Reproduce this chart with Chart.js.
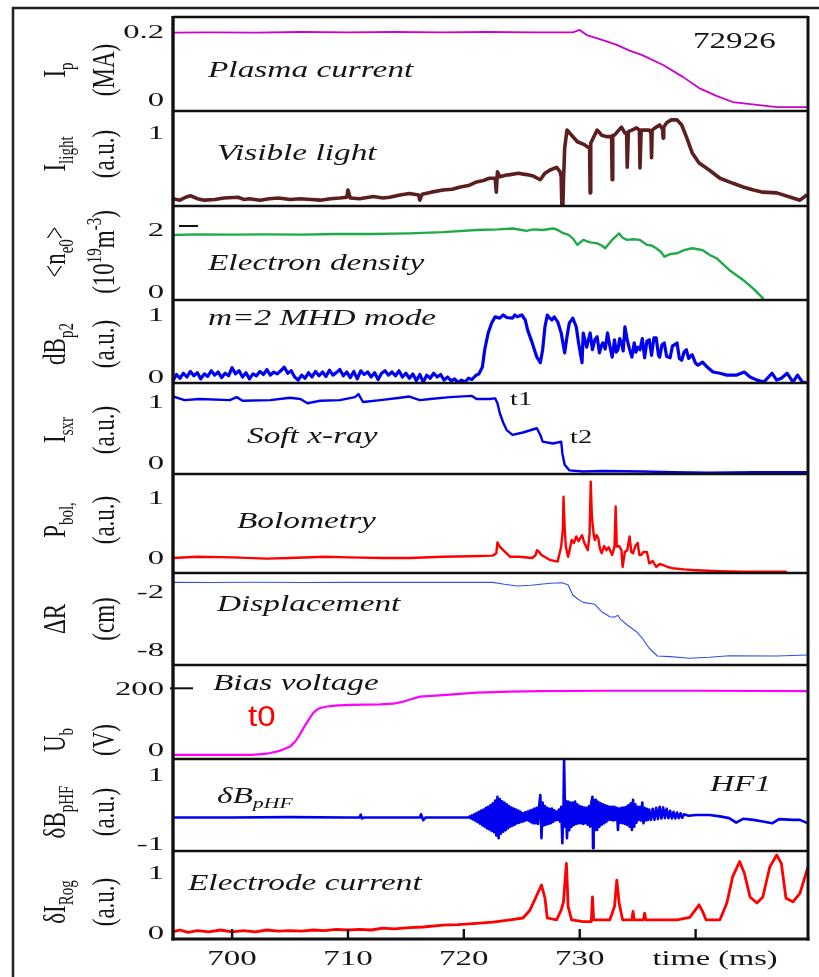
<!DOCTYPE html>
<html>
<head>
<meta charset="utf-8">
<script src="https://cdn.jsdelivr.net/npm/chart.js@4.4.1/dist/chart.umd.min.js"></script>
<style>
  html, body { margin: 0; padding: 0; background: #fff; }
  canvas { display: block; }
</style>
</head>
<body>
<canvas id="shot" width="819" height="977"></canvas>
<script>
// time axis (ms)
const timeTicks = [700, 710, 720, 730, 740];
const timeTickLabels = ['700', '710', '720', '730', ''];

// tick values shown on each panel, top to bottom
const yTickValues = [[0.2, 0], [1], [2, 0], [1, 0], [1, 0], [1, 0], [-2, -8], [200, 0], [1, -1], [1, 0]];

// [time ms, value] pairs
const plasmaCurrent = [[694.9,0.198],[698,0.199],[702,0.198],[706,0.2],[710,0.199],[714,0.2],[718,0.199],[722,0.2],[726,0.199],[729.4,0.199],[730.0,0.206],[730.6,0.191],[732.0,0.176],[733.2,0.162],[734.3,0.145],[735.4,0.132],[737.2,0.103],[738.9,0.068],[740.3,0.035],[741.8,0.012],[743.2,-0.006],[745.5,-0.015],[747.0,-0.021],[749.7,-0.021]];

const visibleLight = [[694.9,0.10],[695.5,0.08],[696.0,0.12],[696.4,0.14],[697.0,0.10],[697.6,0.08],[698.5,0.09],[699.3,0.11],[700.5,0.12],[701.0,0.09],[701.5,0.10],[702.4,0.08],[703.2,0.10],[704.0,0.11],[705.0,0.09],[705.9,0.10],[706.8,0.09],[707.6,0.08],[708.5,0.10],[709.3,0.11],[709.9,0.12],[710.0,0.22],[710.2,0.11],[711.0,0.10],[711.8,0.12],[712.2,0.13],[713.0,0.11],[713.6,0.12],[714.5,0.15],[715.3,0.17],[716.1,0.15],[716.2,0.08],[716.4,0.16],[717.2,0.19],[718.2,0.22],[719.0,0.23],[719.7,0.26],[720.4,0.28],[721.1,0.33],[721.7,0.35],[722.2,0.38],[722.7,0.38],[722.8,0.19],[722.9,0.47],[723.1,0.40],[723.6,0.42],[724.0,0.43],[724.7,0.45],[725.4,0.43],[726.0,0.41],[726.6,0.36],[727.0,0.45],[727.4,0.49],[728.0,0.53],[728.3,0.47],[728.4,0.40],[728.5,-0.30],[728.6,0.35],[728.7,0.79],[728.9,1.04],[729.3,0.97],[729.8,0.88],[730.4,0.84],[730.85,0.79],[730.9,0.18],[730.95,0.86],[731.5,1.04],[731.9,0.97],[732.3,0.95],[732.75,0.95],[732.8,0.36],[732.85,0.97],[733.0,0.97],[733.6,1.08],[733.9,1.0],[734.05,1.0],[734.1,0.53],[734.2,1.02],[734.5,1.04],[734.9,1.07],[735.15,1.04],[735.2,0.52],[735.3,1.04],[736.0,1.04],[736.15,1.0],[736.2,0.66],[736.25,1.04],[736.5,1.07],[736.9,1.11],[737.15,1.05],[737.2,0.93],[737.25,1.08],[737.5,1.14],[737.9,1.18],[738.4,1.18],[738.8,1.11],[739.2,0.95],[739.7,0.73],[740.3,0.59],[741.2,0.49],[742.1,0.38],[742.9,0.33],[744.1,0.26],[745.0,0.22],[745.8,0.19],[747.0,0.18],[748.4,0.11],[749.0,0.08],[749.6,0.15]];

const electronDensity = [[694.9,1.84],[697,1.86],[700,1.85],[703,1.86],[706,1.85],[709,1.87],[712,1.87],[715.3,1.89],[718.2,1.93],[721.1,2.0],[723,2.02],[724.2,2.05],[725.0,2.0],[725.4,1.97],[726.0,2.02],[726.8,2.0],[727.7,2.05],[728.1,2.0],[728.5,1.91],[729.0,1.85],[729.4,1.73],[729.8,1.52],[730.3,1.68],[730.9,1.6],[731.5,1.57],[731.9,1.5],[732.2,1.41],[732.5,1.55],[732.8,1.68],[733.4,1.89],[733.7,1.75],[734.1,1.68],[734.6,1.7],[735.2,1.68],[735.8,1.52],[736.2,1.5],[736.6,1.41],[737.0,1.3],[737.3,1.14],[737.8,1.22],[738.4,1.25],[739.0,1.35],[739.7,1.41],[740.2,1.38],[740.6,1.35],[741.2,1.2],[741.8,1.09],[742.9,0.71],[744.1,0.39],[745.0,0.1],[745.8,-0.2]];

const mhdMode = [[694.9,-0.06],[695.2,0.04],[695.5,-0.02],[695.8,0.06],[696.1,0.0],[696.4,0.09],[696.7,0.02],[697.0,0.07],[697.3,-0.03],[697.6,0.05],[697.9,0.01],[698.2,0.1],[698.5,0.03],[698.8,0.08],[699.1,-0.01],[699.4,0.06],[699.7,0.02],[700.0,0.15],[700.3,0.05],[700.6,0.1],[700.9,0.0],[701.2,0.07],[701.5,-0.03],[701.8,0.05],[702.1,0.02],[702.4,0.09],[702.7,0.04],[703.0,0.12],[703.3,0.03],[703.6,0.08],[703.9,0.05],[704.2,0.1],[704.5,0.16],[704.8,0.06],[705.1,0.1],[705.4,0.0],[705.7,-0.05],[706.0,0.03],[706.3,-0.02],[706.6,0.07],[706.9,0.0],[707.2,0.09],[707.5,0.02],[707.8,0.08],[708.1,0.01],[708.4,0.11],[708.7,0.03],[709.0,0.07],[709.3,0.12],[709.6,0.02],[709.9,0.08],[710.2,-0.01],[710.5,0.09],[710.8,-0.03],[711.1,0.1],[711.4,0.04],[711.7,0.08],[712.0,0.0],[712.3,0.07],[712.6,-0.04],[712.9,0.06],[713.2,0.1],[713.5,0.03],[713.8,0.08],[714.1,0.02],[714.4,0.1],[714.7,0.0],[715.0,0.06],[715.3,-0.02],[715.6,0.05],[715.9,-0.06],[716.2,0.04],[716.5,-0.08],[716.8,0.03],[717.1,-0.02],[717.4,0.06],[717.7,0.0],[718.0,0.04],[718.3,-0.05],[718.6,0.0],[718.9,-0.06],[719.2,-0.03],[719.5,-0.09],[719.8,-0.05],[720.1,-0.08],[720.4,-0.02],[720.7,-0.04],[721.0,0.02],[721.3,0.05],[721.6,0.16],[721.8,0.44],[722.1,0.71],[722.4,0.87],[722.7,0.97],[723.1,0.95],[723.4,1.0],[723.7,0.96],[724.2,0.95],[724.4,1.0],[724.6,0.97],[725.0,1.0],[725.3,0.92],[725.5,0.76],[725.9,0.55],[726.3,0.32],[726.6,0.23],[726.8,0.44],[727.0,0.81],[727.2,1.0],[727.4,0.95],[727.6,0.92],[727.8,0.97],[728.1,0.89],[728.4,0.71],[728.7,0.39],[728.9,0.65],[729.1,0.87],[729.4,0.95],[729.7,0.81],[729.9,0.55],[730.2,0.23],[730.3,0.71],[730.6,0.48],[730.9,0.71],[731.1,0.44],[731.3,0.6],[731.5,0.65],[731.7,0.39],[731.85,0.5],[732.0,0.55],[732.2,0.45],[732.4,0.71],[732.6,0.5],[732.8,0.32],[733.0,0.6],[733.15,0.4],[733.3,0.44],[733.45,0.62],[733.6,0.55],[733.75,0.42],[733.9,0.81],[734.1,0.6],[734.3,0.45],[734.5,0.32],[734.7,0.55],[734.85,0.4],[735.0,0.48],[735.2,0.44],[735.4,0.62],[735.6,0.31],[735.8,0.58],[736.0,0.6],[736.2,0.35],[736.4,0.63],[736.6,0.63],[736.8,0.35],[736.9,0.32],[737.1,0.52],[737.3,0.55],[737.5,0.33],[737.8,0.31],[738.0,0.5],[738.2,0.52],[738.4,0.55],[738.6,0.3],[738.8,0.27],[739.0,0.4],[739.2,0.44],[739.4,0.3],[739.7,0.36],[740.0,0.22],[740.2,0.19],[740.6,0.24],[741.0,0.16],[741.5,0.08],[742.1,0.06],[742.7,0.03],[743.5,0.03],[744.2,0.08],[744.7,0.0],[745.3,-0.05],[745.9,-0.08],[746.6,0.06],[747.0,-0.05],[747.4,-0.02],[747.9,0.06],[748.4,-0.08],[748.8,0.03],[749.2,-0.08],[749.7,-0.1]];

const softXray = [[694.9,1.09],[695.9,1.03],[697.2,1.05],[699.8,1.03],[700.4,1.08],[700.9,1.02],[703.3,1.03],[705.0,1.07],[705.9,1.05],[706.5,0.98],[707.6,1.02],[709.3,1.03],[710.6,1.08],[710.9,1.13],[711.3,1.0],[712.8,1.03],[714.5,1.07],[715.3,1.09],[716.2,1.03],[717.1,1.05],[718.8,1.08],[720.7,1.10],[721.1,1.05],[722.2,1.05],[722.7,1.06],[722.9,0.98],[723.1,0.82],[723.4,0.66],[723.7,0.54],[724.2,0.46],[725.1,0.50],[726.3,0.57],[726.6,0.46],[726.8,0.35],[727.7,0.32],[728.4,0.35],[728.5,0.16],[728.7,-0.03],[729.1,-0.12],[730.3,-0.14],[732.0,-0.13],[735.4,-0.14],[738.0,-0.15],[741.2,-0.16],[745.0,-0.15],[749.7,-0.15]];

const bolometry = [[694.9,0.0],[697,0.02],[700,0.01],[703,-0.01],[705,0.0],[708,0.02],[710,0.01],[713,0.0],[715.3,0.0],[718.2,0.02],[720.5,0.03],[722.5,0.04],[722.8,0.08],[722.9,0.26],[723.1,0.19],[723.4,0.13],[724.0,0.02],[724.8,0.02],[725.9,0.0],[726.2,0.05],[726.3,0.13],[726.5,0.1],[726.7,0.05],[727.4,-0.03],[728.1,-0.06],[728.4,0.19],[728.55,0.5],[728.6,1.02],[728.7,0.5],[728.8,0.19],[729.0,0.02],[729.2,0.2],[729.3,0.3],[729.5,0.25],[729.7,0.36],[729.9,0.28],[730.2,0.38],[730.4,0.25],[730.7,0.13],[730.85,0.4],[730.95,1.27],[731.05,0.69],[731.2,0.4],[731.3,0.3],[731.45,0.38],[731.6,0.33],[731.75,0.15],[731.9,0.08],[732.1,0.2],[732.3,0.13],[732.5,0.18],[732.8,0.05],[733.0,0.19],[733.1,0.86],[733.2,0.19],[733.4,0.2],[733.6,0.13],[733.7,-0.15],[733.9,0.1],[734.1,0.13],[734.3,0.36],[734.45,0.1],[734.6,0.08],[734.8,0.2],[735.0,0.25],[735.15,0.05],[735.3,0.05],[735.5,0.1],[735.8,0.1],[736.0,-0.09],[736.3,-0.05],[736.6,-0.15],[736.9,-0.1],[737.2,-0.12],[737.6,-0.15],[738.0,-0.17],[739.0,-0.19],[739.7,-0.2],[742,-0.22],[744.1,-0.23],[747.8,-0.23]];

const displacement = [[694.9,-1.0],[698,-1.02],[702,-0.99],[706,-1.01],[710,-1.0],[715.3,-1.0],[720,-1.0],[722.5,-1.0],[723.5,-1.2],[724.6,-1.38],[725.8,-1.3],[726.8,-1.17],[727.5,-1.1],[728.5,-1.04],[729.0,-1.28],[729.4,-2.31],[729.8,-2.7],[730.3,-3.07],[731.3,-3.27],[731.9,-4.04],[732.6,-4.56],[733.0,-4.6],[733.3,-4.4],[733.5,-4.8],[734.1,-5.41],[734.9,-6.11],[735.4,-6.79],[736.0,-7.82],[736.7,-8.62],[737.8,-8.69],[739.5,-8.86],[741.2,-8.75],[742.9,-8.59],[747.0,-8.62],[749.7,-8.52]];

const biasVoltage = [[694.9,-16],[701.7,-16],[703.0,-12],[704.1,-3],[705.0,11],[705.5,30],[705.9,54],[706.3,80],[706.7,103],[707.0,120],[707.3,130],[707.6,136],[708.2,141],[708.9,144],[710.1,146],[712.8,148],[713.9,150],[714.6,155],[715.3,163],[716.2,173],[718.2,178],[721.1,186],[724,189],[726.8,191],[732.6,192],[740,192],[749.7,191]];

const hfProbe = [[694.9,-0.23],[700,-0.23],[705,-0.22],[710,-0.23],[711.0,-0.23],[711.1,-0.15],[711.2,-0.26],[711.4,-0.23],[716.2,-0.23],[716.3,-0.14],[716.5,-0.31],[716.7,-0.23],[720.4,-0.23],
  [720.5,-0.2],[720.6,-0.26],[720.7,-0.17],[720.8,-0.29],[720.9,-0.14],[721.0,-0.33],[721.1,-0.1],[721.2,-0.37],[721.3,-0.07],[721.4,-0.41],[721.5,-0.03],[721.6,-0.46],[721.7,0.0],[721.8,-0.5],[721.9,0.05],[722.0,-0.55],[722.1,0.08],[722.2,-0.58],[722.3,0.13],[722.4,-0.62],[722.5,0.18],[722.6,-0.66],[722.7,0.26],[722.8,-0.75],[722.9,0.37],[723.0,-0.83],[723.1,0.3],[723.2,-0.7],[723.3,0.24],[723.4,-0.64],[723.5,0.2],[723.6,-0.6],[723.7,0.15],[723.8,-0.55],[723.9,0.1],[724.0,-0.5],[724.1,0.06],[724.2,-0.47],[724.3,0.03],[724.4,-0.44],[724.5,0.0],[724.6,-0.4],[724.7,-0.03],[724.8,-0.38],[724.9,-0.07],[725.0,-0.36],[725.1,-0.11],[725.2,-0.34],[725.3,-0.08],[725.4,-0.31],[725.5,-0.06],[725.6,-0.33],[725.7,-0.03],[725.8,-0.37],[725.9,-0.01],[726.0,-0.4],[726.1,0.03],[726.2,-0.4],[726.3,0.05],[726.4,-0.42],[726.5,0.1],[726.6,0.42],[726.7,-0.83],[726.8,0.2],[726.9,-0.46],[727.0,0.1],[727.1,-0.44],[727.2,0.05],[727.3,-0.42],[727.4,0.02],[727.5,-0.4],[727.6,0.03],[727.7,-0.36],[727.8,-0.02],[727.9,-0.32],[728.0,-0.06],[728.1,-0.3],[728.2,0.0],[728.3,-0.35],[728.4,0.08],[728.5,-0.98],[728.6,0.1],[728.65,1.43],[728.75,-0.5],[728.8,0.25],[728.9,-0.83],[729.0,0.23],[729.1,-0.6],[729.2,0.2],[729.3,-0.5],[729.4,0.2],[729.5,-0.45],[729.6,0.23],[729.7,-0.42],[729.8,0.15],[729.9,-0.4],[730.0,0.1],[730.1,-0.4],[730.2,0.08],[730.3,-0.42],[730.4,0.06],[730.5,-0.4],[730.6,0.05],[730.7,-0.44],[730.8,0.1],[730.9,-0.5],[731.0,0.2],[731.1,0.37],[731.15,-1.12],[731.2,0.28],[731.3,-0.6],[731.4,0.28],[731.5,-0.59],[731.6,0.22],[731.7,-0.5],[731.8,0.18],[731.9,-0.44],[732.0,0.15],[732.1,-0.4],[732.2,0.12],[732.3,-0.36],[732.4,0.1],[732.5,-0.3],[732.6,0.08],[732.7,-0.3],[732.8,0.08],[732.9,-0.32],[733.0,0.08],[733.1,-0.3],[733.2,0.05],[733.3,-0.59],[733.4,0.03],[733.5,-0.38],[733.6,0.05],[733.7,-0.4],[733.8,0.06],[733.9,-0.42],[734.0,0.08],[734.1,-0.45],[734.2,0.12],[734.3,-0.5],[734.4,0.18],[734.5,-0.59],[734.6,0.28],[734.7,-0.5],[734.8,0.15],[734.9,-0.38],[735.0,0.08],[735.1,-0.3],[735.2,0.08],[735.3,-0.32],[735.4,0.2],[735.5,-0.4],[735.6,0.05],[735.7,-0.32],[735.8,0.02],[735.9,-0.3],[736.0,0.0],[736.15,-0.3],[736.3,0.02],[736.45,-0.3],[736.6,0.05],[736.75,-0.28],[736.9,0.08],[737.05,-0.26],[737.2,0.06],[737.35,-0.25],[737.5,0.02],[737.65,-0.25],[737.8,-0.04],[737.95,-0.26],[738.1,-0.07],[738.25,-0.26],[738.4,-0.09],[738.55,-0.25],[738.7,-0.11],[738.85,-0.24],[739.0,-0.14],
  [739.4,-0.18],[740.0,-0.16],[741.2,-0.16],[742.1,-0.2],[742.9,-0.25],[743.5,-0.38],[744.1,-0.27],[745.0,-0.3],[745.8,-0.35],[746.6,-0.4],[747.2,-0.28],[748.4,-0.3],[749.0,-0.3],[749.7,-0.4]];

const electrodeCurrent = [[694.9,0.02],[695.5,0.05],[696.2,0.01],[697,0.04],[698,0.02],[699,0.05],[700,0.02],[701,0.04],[702,0.02],[703,0.05],[704,0.03],[705,0.04],[706,0.03],[707,0.05],[708,0.04],[709,0.06],[710,0.05],[711,0.06],[712,0.05],[713,0.08],[714,0.07],[715.3,0.09],[716.5,0.1],[718.2,0.13],[719.5,0.14],[721.1,0.16],[722.5,0.18],[724.0,0.22],[725.1,0.25],[725.7,0.38],[726.3,0.63],[726.7,0.8],[727.0,0.58],[727.2,0.25],[728.0,0.22],[728.4,0.38],[728.6,0.52],[728.85,1.16],[729.0,0.44],[729.3,0.22],[730.3,0.19],[731.0,0.19],[731.1,0.6],[731.2,0.22],[732.6,0.22],[733.0,0.44],[733.2,0.88],[733.4,0.5],[733.7,0.22],[734.5,0.22],[734.6,0.36],[734.7,0.22],[735.5,0.22],[735.6,0.33],[735.7,0.22],[738.4,0.22],[739.5,0.26],[740.3,0.47],[740.6,0.36],[740.9,0.22],[742.1,0.22],[742.7,0.5],[743.2,0.94],[743.8,1.19],[744.2,1.0],[744.7,0.6],[745.3,0.5],[745.8,0.6],[746.4,1.1],[747.0,1.3],[747.4,1.16],[747.8,0.58],[748.4,0.52],[749.0,0.66],[749.7,1.1]];

// panel setup, top to bottom
const panels = [
  { id: 'yIp',    h: 94, min: -0.0324, max: 0.2441, trace: plasmaCurrent,   color: '#cc00cc', lw: 1.8, t1: 'I_{p}',     t2: '(MA)',            ty: 70 },
  { id: 'yLight', h: 95, min: 0,       max: 1.3014, trace: visibleLight,    color: '#5b1f1f', lw: 3.6, t1: 'I_{light}', t2: '(a.u.)',          ty: 154 },
  { id: 'yNe',    h: 94, min: -0.258,  max: 2.774,  trace: electronDensity, color: '#1faa48', lw: 2.4, t1: '<n_{e0}>',  t2: '(10^{19}m^{-3})', ty: 252 },
  { id: 'yMhd',   h: 83, min: -0.0968, max: 1.2419, trace: mhdMode,         color: '#0000ee', lw: 3.2, t1: 'dB_{p2}',   t2: '(a.u.)',          ty: 344 },
  { id: 'ySxr',   h: 91, min: -0.1803, max: 1.3115, trace: softXray,        color: '#0000ee', lw: 2.4, t1: 'I_{sxr}',   t2: '(a.u.)',          ty: 430 },
  { id: 'yBol',   h: 99, min: -0.25,   max: 1.4,    trace: bolometry,       color: '#ff0000', lw: 2.4, t1: 'P_{bol,}',  t2: '(a.u.)',          ty: 520 },
  { id: 'yDr',    h: 92, min: -9.5515, max: -0.0345,trace: displacement,    color: '#3050ee', lw: 1.1, t1: 'ΔR',        t2: '(cm)',            ty: 619 },
  { id: 'yUb',    h: 94, min: -29.17,  max: 275.5,  trace: biasVoltage,     color: '#ff00ff', lw: 2.2, t1: 'U_{b}',     t2: '(V)',             ty: 740 },
  { id: 'yHf',    h: 92, min: -1.2029, max: 1.4638, trace: hfProbe,         color: '#0000ee', lw: 2.6, t1: 'δB_{pHF}',  t2: '(a.u.)',          ty: 812 },
  { id: 'yRog',   h: 88, min: -0.1,    max: 1.3667, trace: electrodeCurrent,color: '#ff0000', lw: 2.8, t1: 'δI_{Rog}',  t2: '(a.u.)',          ty: 902 }
];

const panelLabels = [
  ['Plasma current', 208, 69], ['Visible light', 217, 152], ['Electron density', 208, 262],
  ['m=2 MHD mode', 208, 317], ['Soft x-ray', 247, 435], ['Bolometry', 237, 520],
  ['Displacement', 217, 603], ['Bias voltage', 213, 682], ['δB_{pHF}', 217, 795],
  ['Electrode current', 188, 882], ['HF1', 710, 783]
];

const SERIF = '"Liberation Serif", "Times New Roman", serif';

function parseRich(src) {
  const out = [];
  let buf = '';
  let i = 0;
  while (i < src.length) {
    const c = src[i];
    if ((c === '_' || c === '^') && src[i + 1] === '{') {
      if (buf) { out.push({ t: buf, k: 0 }); buf = ''; }
      const j = src.indexOf('}', i);
      out.push({ t: src.slice(i + 2, j), k: c === '_' ? 1 : -1 });
      i = j + 1;
    } else {
      buf += c;
      i++;
    }
  }
  if (buf) out.push({ t: buf, k: 0 });
  return out;
}

function drawRich(ctx, src, o) {
  const segs = parseRich(src);
  const fam = o.family || SERIF;
  const sty = o.italic ? 'italic ' : '';
  const fontOf = k => sty + (k ? Math.round(o.size * 0.64) : o.size) + 'px ' + fam;
  ctx.save();
  let w = 0;
  segs.forEach(s => { ctx.font = fontOf(s.k); s.w = ctx.measureText(s.t).width; w += s.w; });
  ctx.translate(o.x, o.y);
  ctx.scale(o.sx || 1, 1);
  if (o.rotate) ctx.rotate(-Math.PI / 2);
  let x = o.align === 'left' ? 0 : o.align === 'right' ? -w : -w / 2;
  ctx.fillStyle = o.color || '#151515';
  ctx.textBaseline = 'alphabetic';
  ctx.textAlign = 'left';
  const base = o.size * 0.33;
  segs.forEach(s => {
    ctx.font = fontOf(s.k);
    const dy = s.k === 1 ? o.size * 0.25 : s.k === -1 ? -o.size * 0.38 : 0;
    ctx.fillText(s.t, x, base + dy);
    x += s.w;
  });
  ctx.restore();
}

function hline(ctx, x1, x2, y, lw) {
  ctx.lineWidth = lw;
  ctx.beginPath(); ctx.moveTo(x1, y); ctx.lineTo(x2, y); ctx.stroke();
}
function vline(ctx, x, y1, y2, lw) {
  ctx.lineWidth = lw;
  ctx.beginPath(); ctx.moveTo(x, y1); ctx.lineTo(x, y2); ctx.stroke();
}

const decor = {
  id: 'decor',
  beforeDraw(chart) {
    const ctx = chart.ctx;
    ctx.save();
    ctx.fillStyle = '#fff';
    ctx.fillRect(0, 0, chart.width, chart.height);
    ctx.strokeStyle = '#222';
    hline(ctx, 12, chart.width, 8, 2.5);
    vline(ctx, 13, 7, chart.height, 2.5);
    ctx.restore();
  },
  afterDatasetsDraw(chart) {
    const ctx = chart.ctx;
    const area = chart.chartArea;
    const xs = chart.scales.x;
    ctx.save();
    ctx.strokeStyle = '#111';
    ctx.lineCap = 'butt';

    // panel frames
    panels.forEach(p => {
      const s = chart.scales[p.id];
      hline(ctx, area.left, area.right, s.top, 2.4);
    });
    hline(ctx, area.left - 1.5, area.right + 1.5, area.bottom, 3.2);
    vline(ctx, area.left, area.top - 1, area.bottom + 1.5, 3.4);
    vline(ctx, area.right, area.top - 1, area.bottom + 1.5, 3);

    // small marks beside a few tick labels
    const sNe = chart.scales.yNe;
    hline(ctx, area.left + 6, area.left + 25, sNe.getPixelForValue(2) - 4, 2);
    const sUb = chart.scales.yUb;
    hline(ctx, area.left - 3, area.left + 20, sUb.getPixelForValue(200), 2);

    // inward time ticks
    timeTicks.forEach(t => {
      vline(ctx, xs.getPixelForValue(t), area.bottom - 10, area.bottom, 2.4);
    });

    // y tick labels and titles
    panels.forEach((p, i) => {
      const s = chart.scales[p.id];
      yTickValues[i].forEach(v => {
        drawRich(ctx, String(v), { x: 164, y: s.getPixelForValue(v), size: 19, sx: 1.72, align: 'right' });
      });
      drawRich(ctx, p.t1, { x: 54, y: p.ty, size: 23, sx: 1.4, rotate: true });
      drawRich(ctx, p.t2, { x: 103, y: p.ty, size: 23, sx: 1.4, rotate: true });
    });

    // time labels
    timeTicks.forEach((t, i) => {
      if (timeTickLabels[i]) {
        drawRich(ctx, timeTickLabels[i], { x: xs.getPixelForValue(t), y: 958, size: 20, sx: 1.65 });
      }
    });
    drawRich(ctx, 'time (ms)', { x: 715, y: 958, size: 20, sx: 1.62 });

    // panel captions
    panelLabels.forEach(([txt, x, y]) => {
      drawRich(ctx, txt, { x, y, size: 23, sx: 1.45, italic: true, align: 'left' });
    });
    drawRich(ctx, '72926', { x: 693, y: 40, size: 24, sx: 1.38, align: 'left' });
    drawRich(ctx, 't1', { x: 510, y: 399, size: 19, sx: 1.5, align: 'left' });
    drawRich(ctx, 't2', { x: 570, y: 437, size: 19, sx: 1.5, align: 'left' });
    drawRich(ctx, 't0', { x: 248, y: 716, size: 30, sx: 1.1, align: 'left', color: '#ff0000',
      family: '"Liberation Sans", Arial, sans-serif' });
    ctx.restore();
  }
};

const scales = {
  x: { type: 'linear', min: 694.9, max: 749.7, display: false }
};
panels.forEach((p, i) => {
  scales[p.id] = {
    type: 'linear', position: 'left', stack: 'shot', stackWeight: p.h,
    weight: panels.length - i, min: p.min, max: p.max, display: false
  };
});

const datasets = panels.map(p => ({
  data: p.trace.map(([t, v]) => ({ x: t, y: v })),
  yAxisID: p.id,
  xAxisID: 'x',
  borderColor: p.color,
  borderWidth: p.lw,
  pointRadius: 0,
  tension: 0,
  borderJoinStyle: 'round',
  borderCapStyle: 'round',
  fill: false
}));

new Chart(document.getElementById('shot'), {
  type: 'line',
  data: { datasets },
  options: {
    responsive: false,
    animation: false,
    devicePixelRatio: 1,
    layout: { padding: { left: 173, right: 11, top: 17, bottom: 38 } },
    plugins: { legend: { display: false }, tooltip: { enabled: false } },
    scales
  },
  plugins: [decor]
});
</script>
</body>
</html>
